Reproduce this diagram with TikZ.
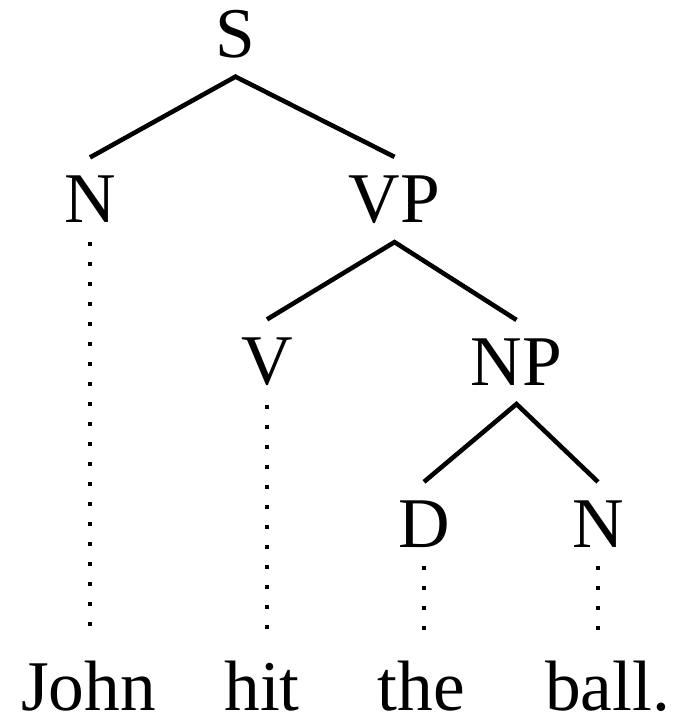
\documentclass[tikz,border=0pt]{standalone}
\usepackage{fontspec}
\setmainfont{Liberation Serif}
\usepackage{tikz}

\begin{document}
\begin{tikzpicture}[every node/.style={font=\fontsize{20.3}{24}\selectfont, inner sep=0.18cm}, word/.style={anchor=base, inner sep=0pt}, branch/.style={line width=1.3pt}, trace/.style={line width=1.2pt, dash pattern=on 1.2pt off 4.5pt, shorten >=0.2cm}]
                    \useasboundingbox (0,0) rectangle (6.83,-7.21);
                    \node(s) at (2.355,-0.34) {S};
                    \node(n) at (0.90,-1.995) {N};
                    \node(vp) at (3.945,-1.995) {VP};
                    \node(v) at (2.67,-3.62) {V};
                    \node(np) at (5.165,-3.62) {NP};
                    \node(d) at (4.24,-5.24) {D};
                    \node(nn) at (5.98,-5.24) {N};
                    \node[word](john) at (0.885,-7.10) {John};
                    \node[word](hit) at (2.62,-7.10) {hit};
                    \node[word](the) at (4.215,-7.10) {the};
                    \node[word](ball) at (6.075,-7.10) {ball.};
                    \draw[branch] (n.north) -- (s.south) -- (vp.north);
                    \draw[branch] (v.north) -- (vp.south) -- (np.north);
                    \draw[branch] (d.north) -- (np.south) -- (nn.north);
                    \draw[trace] (n.south) -- (n.south |- john.north);
                    \draw[trace] (v.south) -- (v.south |- hit.north);
                    \draw[trace] (d.south) -- (d.south |- the.north);
                    \draw[trace] (nn.south) -- (nn.south |- ball.north);
                \end{tikzpicture}
\end{document}
